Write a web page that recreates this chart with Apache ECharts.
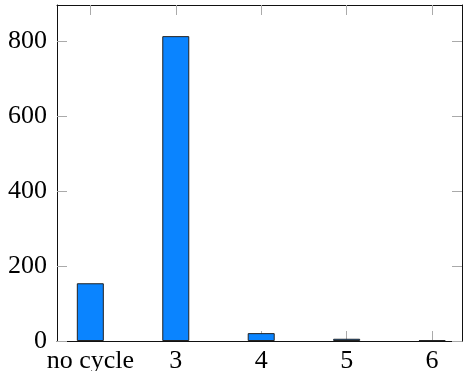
<!DOCTYPE html>
<html>
<head>
<meta charset="utf-8">
<script src="https://cdn.jsdelivr.net/npm/echarts@6/dist/echarts.min.js"></script>
<style>
  html, body { margin: 0; padding: 0; background: #fff; }
  #chart { width: 463px; height: 371px; }
</style>
</head>
<body>
<div id="chart"></div>
<script>
// categories and counts
const categories = ['no cycle', '3', '4', '5', '6'];
const counts = [154, 813, 21, 6, 2];
const yTicks = [0, 200, 400, 600, 800];

const font = "'Liberation Serif', 'Times New Roman', serif";
const tickPos = categories.map((c, i) => i);

const chart = echarts.init(document.getElementById('chart'));

const tickStyle = { show: true, inside: true, length: 10, lineStyle: { color: '#aaa', width: 1 } };
const frame = { show: true, onZero: false, lineStyle: { color: '#111', width: 1 } };

const option = {
  animation: false,
  grid: { left: 57, right: 1, top: 5, bottom: 30, containLabel: false, outerBoundsMode: 'none' },
  xAxis: [
    {
      type: 'value',
      min: -0.39,
      max: 4.35,
      position: 'bottom',
      axisLine: frame,
      axisTick: Object.assign({ customValues: tickPos }, tickStyle),
      axisLabel: {
        customValues: tickPos,
        margin: 7,
        fontFamily: font,
        fontSize: 26,
        color: '#000',
        formatter: v => categories[Math.round(v)]
      },
      splitLine: { show: false }
    },
    {
      type: 'value',
      min: -0.39,
      max: 4.35,
      position: 'top',
      axisLine: frame,
      axisTick: Object.assign({ customValues: tickPos }, tickStyle),
      axisLabel: { show: false },
      splitLine: { show: false }
    }
  ],
  yAxis: [
    {
      type: 'value',
      min: 0,
      max: 896,
      position: 'left',
      axisLine: frame,
      axisTick: Object.assign({ customValues: yTicks }, tickStyle),
      axisLabel: {
        customValues: yTicks,
        margin: 10,
        fontFamily: font,
        fontSize: 26,
        color: '#000'
      },
      splitLine: { show: false }
    },
    {
      type: 'value',
      min: 0,
      max: 896,
      position: 'right',
      axisLine: frame,
      axisTick: Object.assign({ customValues: yTicks }, tickStyle),
      axisLabel: { show: false },
      splitLine: { show: false }
    }
  ],
  series: [
    {
      type: 'bar',
      barWidth: 27,
      data: counts.map((v, i) => [i, v]),
      itemStyle: { color: '#0a84ff', borderColor: '#222', borderWidth: 1 }
    }
  ]
};

chart.setOption(option);
</script>
</body>
</html>
